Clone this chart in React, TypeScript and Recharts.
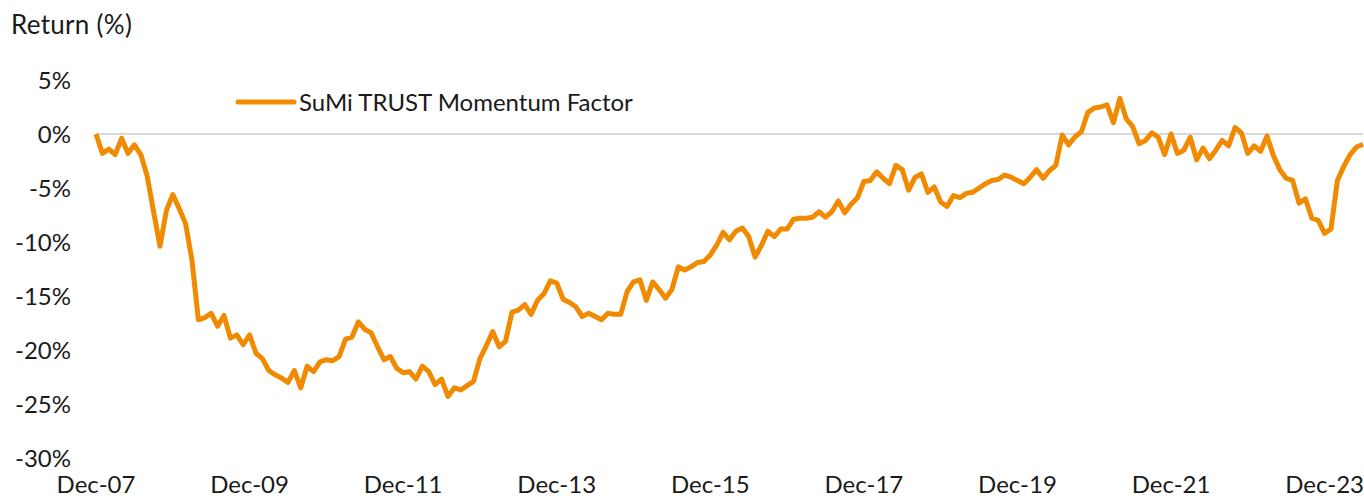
import React from "react";
import {
  LineChart,
  Line,
  XAxis,
  YAxis,
  Legend,
  ReferenceLine,
} from "recharts";

// monthly cumulative return (%), Dec-07 .. Jun-24
const returns2008 = [0, -1.8, -1.4, -1.9, -0.4, -1.8, -1.0, -1.9, -3.9, -7.2, -10.4, -7.1, -5.6];
const returns2009 = [-6.9, -8.3, -11.7, -17.2, -17.0, -16.6, -17.8, -16.8, -18.9, -18.6, -19.5, -18.6];
const returns2010 = [-20.3, -20.8, -21.9, -22.3, -22.6, -23.0, -21.9, -23.5, -21.5, -22.0, -21.1, -20.9];
const returns2011 = [-21.0, -20.6, -19.0, -18.8, -17.4, -18.1, -18.4, -19.7, -20.9, -20.6, -21.7, -22.1];
const returns2012 = [-22.0, -22.7, -21.5, -22.0, -23.2, -22.7, -24.3, -23.5, -23.7, -23.3, -22.9, -20.8];
const returns2013 = [-19.6, -18.3, -19.7, -19.2, -16.5, -16.3, -15.8, -16.7, -15.4, -14.8, -13.6, -13.8];
const returns2014 = [-15.3, -15.6, -16.0, -16.9, -16.6, -16.9, -17.2, -16.6, -16.7, -16.7, -14.6, -13.7];
const returns2015 = [-13.5, -15.4, -13.7, -14.4, -15.2, -14.4, -12.3, -12.6, -12.3, -11.9, -11.8, -11.2];
const returns2016 = [-10.3, -9.1, -9.8, -9.0, -8.7, -9.5, -11.4, -10.3, -9.0, -9.5, -8.8, -8.8];
const returns2017 = [-7.9, -7.8, -7.8, -7.7, -7.2, -7.7, -7.2, -6.2, -7.3, -6.5, -5.9, -4.4];
const returns2018 = [-4.3, -3.5, -4.1, -4.6, -2.9, -3.3, -5.2, -4.0, -3.7, -5.4, -4.9, -6.3];
const returns2019 = [-6.7, -5.7, -5.9, -5.5, -5.4, -5.0, -4.6, -4.3, -4.2, -3.8, -4.0, -4.3];
const returns2020 = [-4.6, -4.0, -3.3, -4.1, -3.4, -2.9, -0.1, -1.0, -0.25, 0.2, 2.0, 2.4];
const returns2021 = [2.5, 2.7, 1.05, 3.3, 1.4, 0.7, -0.9, -0.6, 0.1, -0.3, -1.9, 0.0];
const returns2022 = [-1.8, -1.5, -0.3, -2.4, -1.3, -2.3, -1.5, -0.6, -1.1, 0.6, 0.1, -1.8];
const returns2023 = [-1.1, -1.6, -0.2, -2.0, -3.3, -4.1, -4.3, -6.4, -6.0, -7.8, -8.0, -9.2];
const returns2024 = [-8.8, -4.3, -3.0, -1.9, -1.2, -0.95];

const series = [
  ...returns2008, ...returns2009, ...returns2010, ...returns2011, ...returns2012,
  ...returns2013, ...returns2014, ...returns2015, ...returns2016, ...returns2017,
  ...returns2018, ...returns2019, ...returns2020, ...returns2021, ...returns2022,
  ...returns2023, ...returns2024,
];

const monthNames = ["Jan", "Feb", "Mar", "Apr", "May", "Jun", "Jul", "Aug", "Sep", "Oct", "Nov", "Dec"];
const yTicks = [-30, -25, -20, -15, -10, -5, 0, 5];

// labels start at Dec-07
const data = series.map((v, i) => {
  const m = (11 + i) % 12;
  const y = 7 + Math.floor((11 + i) / 12);
  return { month: `${monthNames[m]}-${String(y).padStart(2, "0")}`, value: v };
});

const ORANGE = "#F08A00";
const FONT = "Lato, 'Noto Sans', sans-serif";
const TEXT = "#1a1a1a";

const LegendContent = () => (
  <div style={{ display: "flex", alignItems: "center", fontFamily: FONT, fontSize: 24, color: TEXT }}>
    <svg width={62} height={10} style={{ marginRight: 2 }}>
      <line x1={3} y1={5} x2={59} y2={5} stroke={ORANGE} strokeWidth={5} strokeLinecap="round" />
    </svg>
    <span>SuMi TRUST Momentum Factor</span>
  </div>
);

export default function App() {
  return (
    <div style={{ position: "relative", width: 1364, height: 498, background: "#fff" }}>
      <style>{"body{margin:0}"}</style>
      <div
        style={{
          position: "absolute",
          left: 11,
          top: 9,
          fontFamily: FONT,
          fontSize: 26,
          color: TEXT,
          lineHeight: "30px",
          letterSpacing: 0.3,
        }}
      >
        Return (%)
      </div>
      <LineChart
        width={1364}
        height={498}
        data={data}
        margin={{ top: 80, right: 1, left: 0, bottom: 0 }}
      >
        <XAxis
          dataKey="month"
          interval={23}
          axisLine={false}
          tickLine={false}
          tickMargin={12}
          height={40}
          tick={{ fontSize: 24, fill: TEXT, fontFamily: FONT }}
        />
        <YAxis
          domain={[-30, 5]}
          ticks={yTicks}
          interval={0}
          axisLine={false}
          tickLine={false}
          tickMargin={19}
          width={96}
          tickFormatter={(v) => `${v}%`}
          tick={{ fontSize: 24, fill: TEXT, fontFamily: FONT }}
        />
        <ReferenceLine y={0} stroke="#d9d9d9" strokeWidth={2} />
        <Legend
          verticalAlign="middle"
          align="center"
          layout="horizontal"
          content={<LegendContent />}
          wrapperStyle={{ position: "absolute", top: 87, left: 235, width: "auto" }}
        />
        <Line
          type="linear"
          dataKey="value"
          name="SuMi TRUST Momentum Factor"
          stroke={ORANGE}
          strokeWidth={5}
          strokeLinejoin="round"
          dot={false}
          activeDot={false}
          isAnimationActive={false}
        />
      </LineChart>
    </div>
  );
}
